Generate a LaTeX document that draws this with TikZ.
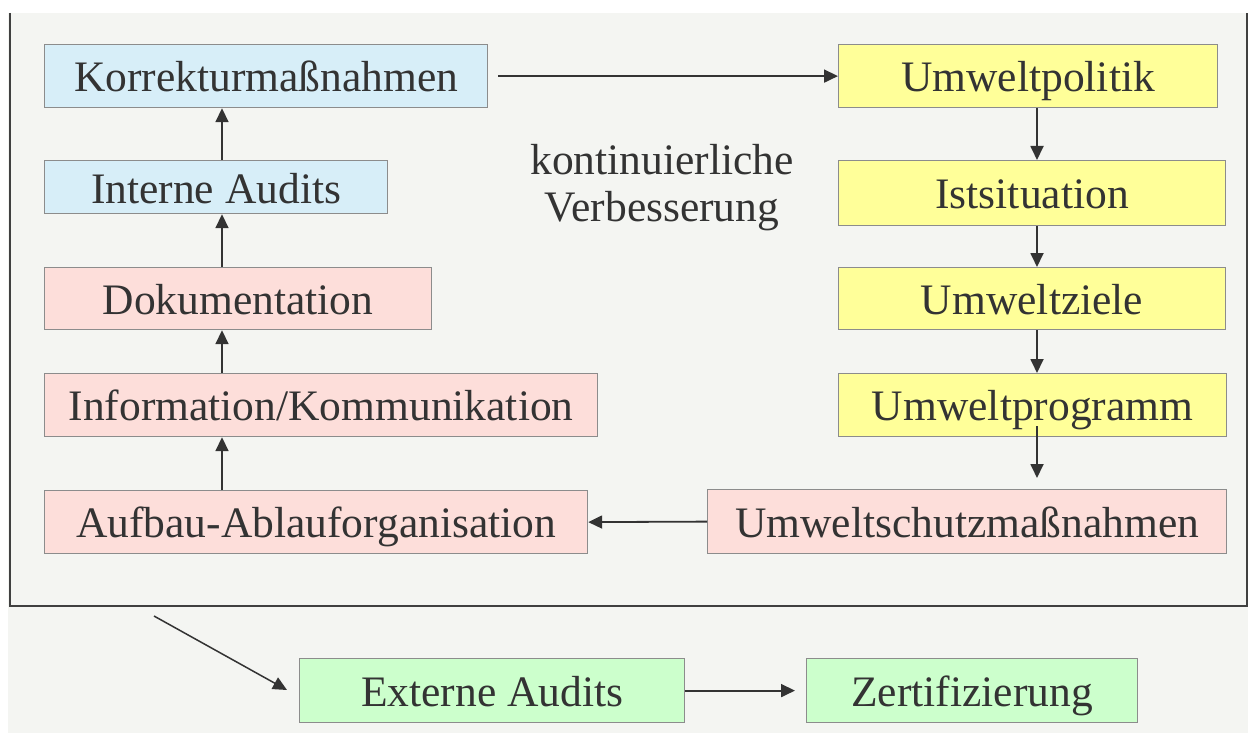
\documentclass[tikz,border=0pt]{standalone}
\usepackage{fontspec}
\setmainfont{Liberation Serif}
\usetikzlibrary{arrows.meta}

\definecolor{pagebg}{HTML}{F4F5F2}
\definecolor{framec}{HTML}{404040}
\definecolor{boxline}{HTML}{8C8C8C}
\definecolor{txt}{HTML}{333333}
\definecolor{auditblue}{HTML}{D7EEF8}
\definecolor{orgpink}{HTML}{FDDEDA}
\definecolor{planyellow}{HTML}{FFFF99}
\definecolor{certgreen}{HTML}{CCFFCC}

\tikzset{
  box/.style={draw=boxline, line width=1.2pt, anchor=north west, inner sep=0pt,
    text=txt, text height=31pt, text depth=0pt,
    font=\fontsize{43.5}{47}\selectfont},
  arr/.style={draw=txt, line width=1.8pt, -{Triangle[length=14pt,width=13pt]}},
}

\begin{document}
\begin{tikzpicture}[x=1pt,y=-1pt]
  \useasboundingbox (0,0) rectangle (1248,733);
  % page background and the frame around the improvement cycle
  \fill[white] (0,0) rectangle (1248,733);
  \fill[pagebg] (8,13) rectangle (1248,733);
  \draw[framec, line width=2pt] (10,13) -- (10,606) -- (1247,606) -- (1247,13);

  % left column: organisation and audit steps
  \node[box, fill=auditblue, minimum width=443pt, minimum height=63pt] (korr) at (44,44) {Korrekturmaßnahmen};
  \node[box, fill=auditblue, minimum width=343pt, minimum height=53pt, text height=33pt] (intern) at (44,160) {Interne Audits};
  \node[box, fill=orgpink, minimum width=387pt, minimum height=62pt] (doku) at (44,267) {Dokumentation};
  \node[box, fill=orgpink, minimum width=553pt, minimum height=63pt] (info) at (44,373) {Information/Kommunikation};
  \node[box, fill=orgpink, minimum width=543pt, minimum height=63pt] (aufbau) at (44,490) {Aufbau-Ablauforganisation};

  % right column: planning steps
  \node[box, fill=planyellow, minimum width=379pt, minimum height=63pt] (politik) at (838,44) {Umweltpolitik};
  \node[box, fill=planyellow, minimum width=387pt, minimum height=65pt] (ist) at (838,160) {Istsituation};
  \node[box, fill=planyellow, minimum width=387pt, minimum height=62pt] (ziele) at (838,267) {Umweltziele};
  \node[box, fill=planyellow, minimum width=388pt, minimum height=63pt] (programm) at (838,373) {Umweltprogramm};
  \node[box, fill=orgpink, minimum width=519pt, minimum height=64pt] (schutz) at (707,489) {Umweltschutzmaßnahmen};

  % external steps below the frame
  \node[box, fill=certgreen, minimum width=385pt, minimum height=64pt] (extern) at (299,658) {Externe Audits};
  \node[box, fill=certgreen, minimum width=331pt, minimum height=64pt] (zert) at (806,658) {Zertifizierung};

  % caption in the middle of the cycle
  \node[text=txt, align=center, inner sep=0pt, font=\fontsize{43.5}{47}\selectfont] (kvp) at (662,188) {kontinuierliche\\Verbesserung};

  % cycle connectors
  \draw[arr] ([xshift=10pt]korr.east) -- (politik.west);
  \draw[arr] ([xshift=199pt]politik.south west) -- ([xshift=199pt]ist.north west);
  \draw[arr] ([xshift=199pt]ist.south west) -- ([xshift=199pt]ziele.north west);
  \draw[arr] ([xshift=199pt]ziele.south west) -- ([xshift=199pt]programm.north west);
  \draw[arr] ([xshift=199pt,yshift=11pt]programm.south west) -- ([xshift=330pt,yshift=11pt]schutz.north west);
  \draw[arr] (schutz.west) -- (aufbau.east);
  \draw[arr] ([xshift=178pt]aufbau.north west) -- ([xshift=178pt]info.south west);
  \draw[arr] ([xshift=178pt]info.north west) -- ([xshift=178pt]doku.south west);
  \draw[arr] ([xshift=178pt]doku.north west) -- ([xshift=178pt]intern.south west);
  \draw[arr] ([xshift=178pt]intern.north west) -- ([xshift=178pt]korr.south west);

  % from the cycle to certification
  \coordinate (out0) at (154,616);
  \coordinate (out1) at (287,690);
  \draw[arr, line width=1.5pt] (out0) -- (out1);
  \draw[arr] (extern.east) -- ([xshift=-11pt]zert.west);
\end{tikzpicture}
\end{document}
